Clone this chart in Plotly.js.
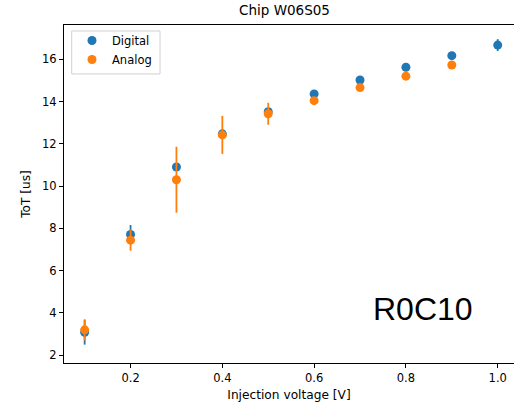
<!DOCTYPE html>
<html>
<head>
<meta charset="utf-8">
<script src="https://cdn.plot.ly/plotly-3.0.1.min.js"></script>
<style>html,body{margin:0;padding:0;background:#fff;}#chart{width:514px;height:404px;}</style>
</head>
<body>
<div id="chart"></div>
<script>
const voltages = [0.1, 0.2, 0.3, 0.4, 0.5, 0.6, 0.7, 0.8, 0.9, 1.0];
const digitalToT = [3.08, 7.71, 10.9, 12.47, 13.52, 14.36, 15.02, 15.62, 16.17, 16.67];
const digitalErr = [0.58, 0.45, 0.15, 0.12, 0.12, 0.1, 0.12, 0.1, 0.12, 0.28];
const analogVoltages = [0.1, 0.2, 0.3, 0.4, 0.5, 0.6, 0.7, 0.8, 0.9];
const analogToT = [3.2, 7.44, 10.3, 12.42, 13.42, 14.04, 14.66, 15.2, 15.73];
const analogErr = [0.5, 0.5, 1.56, 0.9, 0.52, 0.1, 0.12, 0.1, 0.1];
const seriesNames = ['Digital', 'Analog'];
const chartTitle = 'Chip W06S05';
const xLabel = 'Injection voltage [V]';
const yLabel = 'ToT [us]';
const cornerLabel = 'R0C10';

const tickFont = {family: 'DejaVu Sans', size: 11.5, color: '#000'};
const labelFont = {family: 'DejaVu Sans', size: 12.2, color: '#000'};
const traces = [
  {x: voltages, y: digitalToT, name: seriesNames[0], type: 'scatter', mode: 'markers',
   marker: {color: '#1f77b4', size: 9},
   error_y: {type: 'data', array: digitalErr, visible: true, color: '#1f77b4', thickness: 1.8, width: 0}},
  {x: analogVoltages, y: analogToT, name: seriesNames[1], type: 'scatter', mode: 'markers',
   marker: {color: '#ff7f0e', size: 9},
   error_y: {type: 'data', array: analogErr, visible: true, color: '#ff7f0e', thickness: 1.8, width: 0}}
];
const axisCommon = {showgrid: false, zeroline: false, showline: true, mirror: true, linecolor: '#000', linewidth: 1,
  ticks: 'outside', ticklen: 4, tickwidth: 1, tickcolor: '#000', tickfont: tickFont};
// plot area in pixels: left 64, right 514, top 25, bottom 363.3
const px = v => (v - 64) / 450;
const py = v => (363.3 - v) / 338.3;
const layout = {
  width: 514, height: 404,
  margin: {l: 64, r: 0, t: 25, b: 40.7},
  paper_bgcolor: '#fff', plot_bgcolor: '#fff',
  font: tickFont,
  title: {text: chartTitle, font: {family: 'DejaVu Sans', size: 13.5, color: '#000'}, x: 0.49, xref: 'paper', y: 0.987, yref: 'container', yanchor: 'top'},
  xaxis: Object.assign({}, axisCommon, {range: [0.055, 1.0355], tickvals: [0.2, 0.4, 0.6, 0.8, 1.0], ticktext: ['0.2','0.4','0.6','0.8','1.0'],
    title: {text: xLabel, font: labelFont, standoff: 6}}),
  yaxis: Object.assign({}, axisCommon, {range: [1.63, 17.62], tickvals: [2,4,6,8,10,12,14,16],
    title: {text: yLabel, font: labelFont, standoff: 8}}),
  legend: {x: px(72), y: py(26), xanchor: 'left', yanchor: 'top', borderwidth: 0,
    bgcolor: 'rgba(0,0,0,0)', font: tickFont},
  showlegend: true,
  shapes: [{type: 'rect', xref: 'paper', yref: 'paper', x0: px(71.7), x1: px(160), y0: py(74), y1: py(31),
    line: {color: '#d0d0d0', width: 1}, fillcolor: 'rgba(255,255,255,0.8)', layer: 'below'}],
  annotations: [{text: cornerLabel, xref: 'paper', yref: 'paper', x: px(423), y: py(309.5),
    xanchor: 'center', yanchor: 'middle', showarrow: false, font: {family: 'Liberation Sans', size: 32, color: '#000'}}]
};
Plotly.newPlot('chart', traces, layout, {staticPlot: true, displayModeBar: false});
</script>
</body>
</html>
